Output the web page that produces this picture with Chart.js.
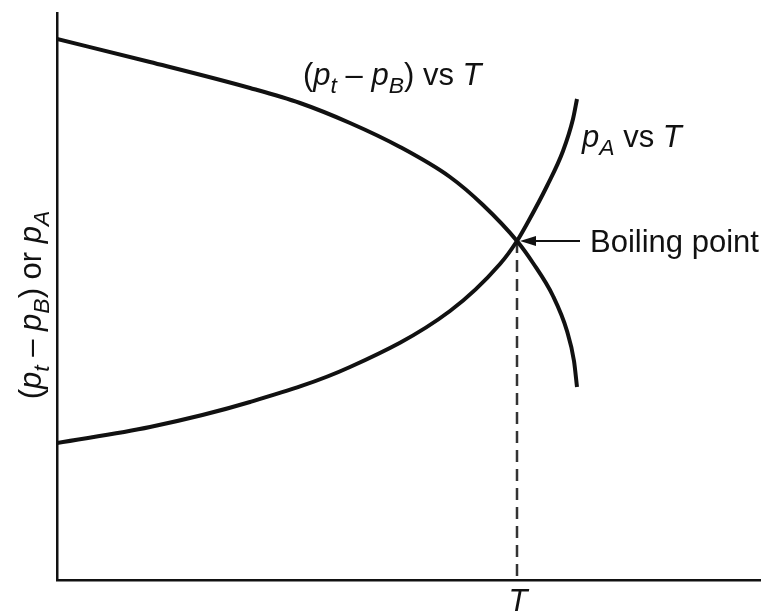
<!DOCTYPE html>
<html>
<head>
<meta charset="utf-8">
<script src="https://cdn.jsdelivr.net/npm/chart.js@4.4.1/dist/chart.umd.min.js"></script>
<style>
  html, body { margin: 0; padding: 0; background: #ffffff; }
  #wrap { width: 763px; height: 611px; }
</style>
</head>
<body>
<div id="wrap"><canvas id="c" width="763" height="611"></canvas></div>
<script>
// ---- data (schematic units) ----
const diffT = [0, 93, 193, 243, 293, 343, 393, 426, 460, 476, 496, 510, 517, 520];
const diffP = [541, 518, 492, 477, 457, 433, 403, 375, 339, 317, 284, 249, 219, 193];

const paT = [0, 93, 193, 293, 393, 443, 460, 471, 490, 506, 516, 520];
const paP = [137, 153, 178, 213, 269, 316, 339, 358, 394, 429, 461, 481];

const boilT = [460, 460];
const boilP = [339, 0];

const xRange = [0, 703];
const yRange = [0, 567];

const FONT = '"Liberation Sans", Arial, Helvetica, sans-serif';
const FS = 31;

function toXY(xs, ys) { return xs.map((x, i) => ({ x: x, y: ys[i] })); }

function drawRich(ctx, segs, x, y, size, align) {
  let total = 0;
  const parts = segs.map(s => {
    const sz = s.sub ? size * 0.74 : size;
    const f = (s.it ? 'italic ' : '') + sz + 'px ' + FONT;
    ctx.font = f;
    const w = ctx.measureText(s.t).width;
    total += w;
    return { s, f, w };
  });
  let cx = align === 'center' ? x - total / 2 : x;
  parts.forEach(p => {
    ctx.font = p.f;
    ctx.fillText(p.s.t, cx, y + (p.s.sub ? size * 0.26 : 0));
    cx += p.w;
  });
}

const annot = {
  id: 'annot',
  afterDatasetsDraw(chart) {
    const ctx = chart.ctx;
    const xs = chart.scales.x, ys = chart.scales.y;
    ctx.save();
    ctx.fillStyle = '#111';
    ctx.textBaseline = 'alphabetic';
    ctx.textAlign = 'left';

    drawRich(ctx, [
      { t: '(' }, { t: 'p', it: true }, { t: 't', it: true, sub: true },
      { t: ' \u2013 ' }, { t: 'p', it: true }, { t: 'B', it: true, sub: true },
      { t: ') vs ' }, { t: 'T', it: true }
    ], xs.getPixelForValue(246), ys.getPixelForValue(495), FS);

    drawRich(ctx, [
      { t: 'p', it: true }, { t: 'A', it: true, sub: true },
      { t: ' vs ' }, { t: 'T', it: true }
    ], xs.getPixelForValue(525), ys.getPixelForValue(433), FS);

    const bx = xs.getPixelForValue(boilT[0]);
    const by = ys.getPixelForValue(boilP[0]);
    drawRich(ctx, [{ t: 'Boiling point' }], xs.getPixelForValue(533), ys.getPixelForValue(328), FS);
    ctx.strokeStyle = '#111';
    ctx.lineWidth = 2;
    ctx.beginPath();
    ctx.moveTo(bx + 10, by);
    ctx.lineTo(bx + 63, by);
    ctx.stroke();
    ctx.beginPath();
    ctx.moveTo(bx + 3, by);
    ctx.lineTo(bx + 19, by - 5);
    ctx.lineTo(bx + 19, by + 5);
    ctx.closePath();
    ctx.fill();

    drawRich(ctx, [{ t: 'T', it: true }], bx + 1, chart.chartArea.bottom + 31, FS, 'center');

    ctx.save();
    ctx.translate(41, ys.getPixelForValue(275));
    ctx.rotate(-Math.PI / 2);
    drawRich(ctx, [
      { t: '(' }, { t: 'p', it: true }, { t: 't', it: true, sub: true },
      { t: ' \u2013 ' }, { t: 'p', it: true }, { t: 'B', it: true, sub: true },
      { t: ') or ' }, { t: 'p', it: true }, { t: 'A', it: true, sub: true }
    ], 0, 0, FS, 'center');
    ctx.restore();

    ctx.restore();
  }
};

new Chart(document.getElementById('c'), {
  type: 'line',
  data: {
    datasets: [
      {
        label: '(pt - pB) vs T',
        data: toXY(diffT, diffP),
        borderColor: '#111',
        borderWidth: 4,
        pointRadius: 0,
        cubicInterpolationMode: 'monotone',
        fill: false
      },
      {
        label: 'pA vs T',
        data: toXY(paT, paP),
        borderColor: '#111',
        borderWidth: 4,
        pointRadius: 0,
        cubicInterpolationMode: 'monotone',
        fill: false
      },
      {
        label: 'Boiling point T',
        data: toXY(boilT, boilP),
        borderColor: '#333',
        borderWidth: 2.5,
        borderDash: [12, 7],
        pointRadius: 0,
        fill: false
      }
    ]
  },
  options: {
    responsive: false,
    animation: false,
    events: [],
    layout: { padding: { left: 49, right: 3, top: 13, bottom: 23 } },
    plugins: { legend: { display: false }, tooltip: { enabled: false }, title: { display: false } },
    scales: {
      x: {
        type: 'linear',
        min: xRange[0], max: xRange[1],
        grid: { display: false },
        ticks: { display: false },
        border: { display: true, color: '#111', width: 2.5 }
      },
      y: {
        type: 'linear',
        min: yRange[0], max: yRange[1],
        grid: { display: false },
        ticks: { display: false },
        border: { display: true, color: '#111', width: 2.5 }
      }
    }
  },
  plugins: [annot]
});
</script>
</body>
</html>
